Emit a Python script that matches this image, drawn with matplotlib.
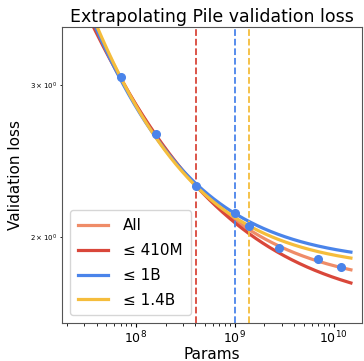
import numpy as np
import matplotlib
matplotlib.use("Agg")
import matplotlib.pyplot as plt

model_params = [7.0e7, 1.6e8, 4.1e8, 1.0e9, 1.4e9, 2.8e9, 6.9e9, 1.2e10]
model_loss = [3.06, 2.63, 2.29, 2.13, 2.06, 1.944, 1.888, 1.844]

# Power-law fits L = E + A * (N / 1e8) ** -alpha, one per training subset
fit_labels = ["All", "\u2264 410M", "\u2264 1B", "\u2264 1.4B"]
fit_E = [1.74, 1.632, 1.862, 1.83]
fit_A = [1.107, 1.216, 0.969, 1.009]
fit_alpha = [0.495, 0.435, 0.558, 0.56]
fit_colors = ["#ef8c68", "#d9473a", "#4a84ea", "#f5bd3c"]

# Cutoffs marked with vertical dashed lines
cutoffs = [4.1e8, 1.0e9, 1.4e9]
cutoff_colors = ["#d9473a", "#4a84ea", "#f5bd3c"]

fig = plt.figure(figsize=(3.64, 3.61), dpi=100)
ax = fig.add_axes([0.171, 0.105, 0.824, 0.82])

n = np.logspace(np.log10(2e7), np.log10(1.5e10), 300)
for lab, E, A, a, c in zip(fit_labels, fit_E, fit_A, fit_alpha, fit_colors):
    ax.plot(n, E + A * (n / 1e8) ** (-a), color=c, lw=2.3, label=lab)

for x, c in zip(cutoffs, cutoff_colors):
    ax.axvline(x, color=c, ls="--", lw=1.3)

ax.plot(model_params, model_loss, "o", color="#4a84ea", ms=5.5, zorder=5)

ax.set_xscale("log")
ax.set_yscale("log")
ax.set_xlim(1.8e7, 1.95e10)
ax.set_ylim(1.59, 3.5)

for s in ax.spines.values():
    s.set_color("#555555")
ax.tick_params(axis="both", which="major", labelsize=9, length=3, pad=2)
ax.tick_params(axis="both", which="minor", length=1.8)
ax.tick_params(axis="y", which="minor", labelsize=5, pad=2)

ax.set_title("Extrapolating Pile validation loss", fontsize=12.5, pad=4)
ax.set_xlabel("Params", fontsize=11, labelpad=0)
ax.set_ylabel("Validation loss", fontsize=11, labelpad=5)

ax.legend(loc="lower left", fontsize=11, handlelength=2.0, borderpad=0.5,
          labelspacing=0.65, handletextpad=1.0)

fig.savefig("out.png", dpi=100, facecolor="white")
